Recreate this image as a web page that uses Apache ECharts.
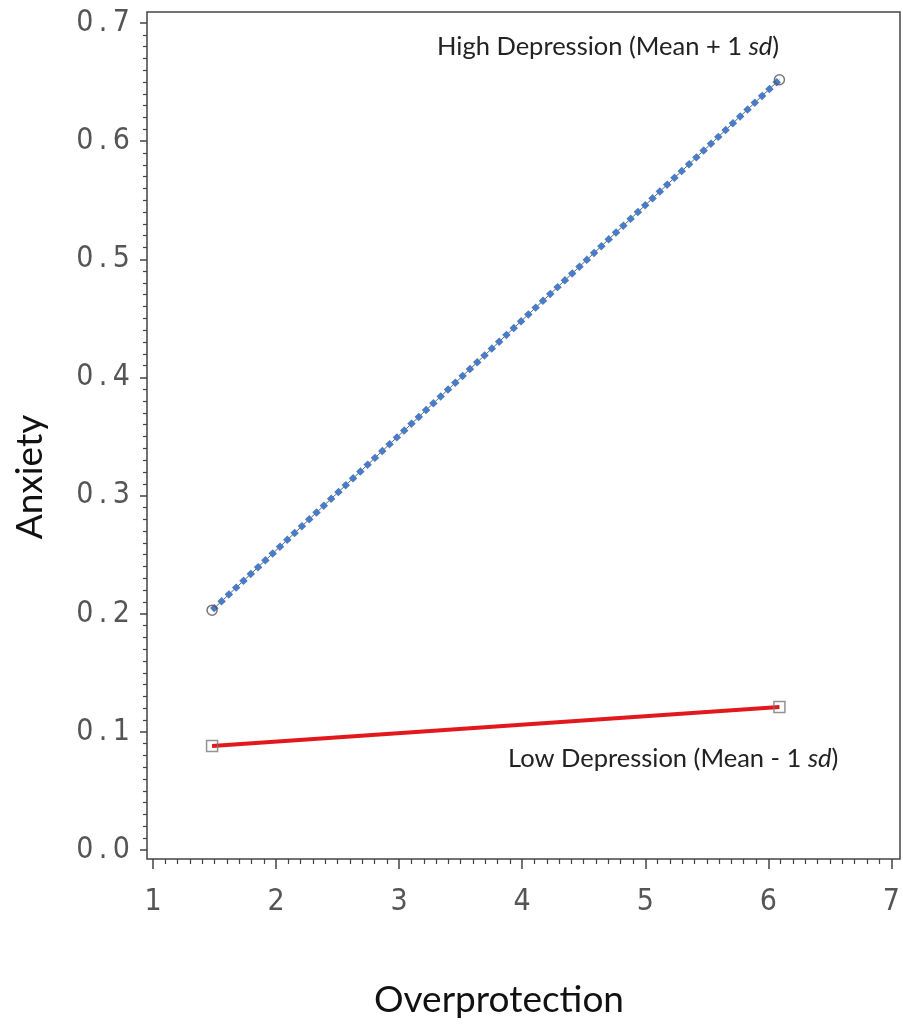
<!DOCTYPE html>
<html>
<head>
<meta charset="utf-8">
<script src="https://cdn.jsdelivr.net/npm/echarts@6/dist/echarts.min.js"></script>
<style>html,body{margin:0;padding:0;background:#fff;}#c{width:903px;height:1027px;}</style>
</head>
<body>
<div id="c"></div>
<script>
// Data
const overprotection = [1.48, 6.09];
const highDepression = [0.203, 0.652];
const lowDepression = [0.088, 0.121];
const highLabel = 'High Depression (Mean + 1 ';
const lowLabel = 'Low Depression (Mean - 1 ';
const xTitle = 'Overprotection';
const yTitle = 'Anxiety';

const tickFont = "'DejaVu Sans Condensed',sans-serif";
const textFont = "Lato,'Open Sans',sans-serif";

const highPts = overprotection.map((x, i) => [x, highDepression[i]]);
const lowPts = overprotection.map((x, i) => [x, lowDepression[i]]);

const chart = echarts.init(document.getElementById('c'), null, {renderer: 'canvas'});
chart.setOption({
  animation: false,
  backgroundColor: '#fff',
  grid: [
    {left: 153, right: 8, top: 23, bottom: 177},
    {left: 147, right: 3, top: 12, bottom: 168, show: true, borderColor: '#444', borderWidth: 1.5, backgroundColor: 'transparent'}
  ],
  xAxis: [
    {
      gridIndex: 0, type: 'value', min: 1, max: 7, interval: 1, offset: 9,
      axisLine: {show: false, onZero: false},
      axisTick: {show: true, length: 10, lineStyle: {color: '#444', width: 1.5}},
      minorTick: {show: true, splitNumber: 10, length: 5, lineStyle: {color: '#444', width: 1.2}},
      splitLine: {show: false},
      axisLabel: {margin: 28, fontFamily: tickFont, fontSize: 30, color: '#555'}
    },
    {gridIndex: 1, type: 'value', min: 0, max: 1, show: false}
  ],
  yAxis: [
    {
      gridIndex: 0, type: 'value', min: 0, max: 0.7, interval: 0.1, offset: 6,
      axisLine: {show: false, onZero: false},
      axisTick: {show: true, length: 7, lineStyle: {color: '#444', width: 1.5}},
      minorTick: {show: true, splitNumber: 10, length: 4, lineStyle: {color: '#444', width: 1.2}},
      splitLine: {show: false},
      axisLabel: {margin: 17, fontFamily: tickFont, fontSize: 30, color: '#555',
        formatter: v => v.toFixed(1).split('').join('\u2009')}
    },
    {gridIndex: 1, type: 'value', min: 0, max: 1, show: false}
  ],
  series: [
    {
      type: 'line', data: highPts, symbol: 'none', z: 2,
      lineStyle: {color: '#666', width: 1}
    },
    {
      type: 'line', data: highPts, symbol: 'none', z: 3,
      lineStyle: {color: '#4a7cc6', width: 6, type: [6, 4], cap: 'butt'}
    },
    {
      type: 'line', data: lowPts, symbol: 'none', z: 3,
      lineStyle: {color: '#e3181c', width: 4}
    },
    {
      type: 'scatter', data: highPts, symbol: 'circle', symbolSize: 10, z: 4,
      itemStyle: {color: 'transparent', borderColor: '#555', borderWidth: 1.5}
    },
    {
      type: 'scatter', data: lowPts, symbol: 'rect', symbolSize: 11, z: 4,
      itemStyle: {color: 'transparent', borderColor: '#777', borderWidth: 1.5}
    }
  ],
  graphic: [
    {
      type: 'text', left: 437, top: 34,
      style: {
        text: '{n|' + highLabel + '}{i|sd}{n|)}',
        rich: {
          n: {fontFamily: textFont, fontSize: 25.5, fill: '#222'},
          i: {fontFamily: textFont, fontSize: 25.5, fontStyle: 'italic', fill: '#222'}
        }
      }
    },
    {
      type: 'text', left: 508, top: 746,
      style: {
        text: '{n|' + lowLabel + '}{i|sd}{n|)}',
        rich: {
          n: {fontFamily: textFont, fontSize: 25.5, fill: '#222'},
          i: {fontFamily: textFont, fontSize: 25.5, fontStyle: 'italic', fill: '#222'}
        }
      }
    },
    {
      type: 'text', x: 499, y: 1000,
      style: {text: xTitle, fontFamily: textFont, fontSize: 37, fill: '#111', align: 'center', verticalAlign: 'middle'}
    },
    {
      type: 'text', x: 30, y: 477, rotation: Math.PI / 2,
      style: {text: yTitle, fontFamily: textFont, fontSize: 37, fill: '#111', align: 'center', verticalAlign: 'middle'}
    }
  ]
});
</script>
</body>
</html>
